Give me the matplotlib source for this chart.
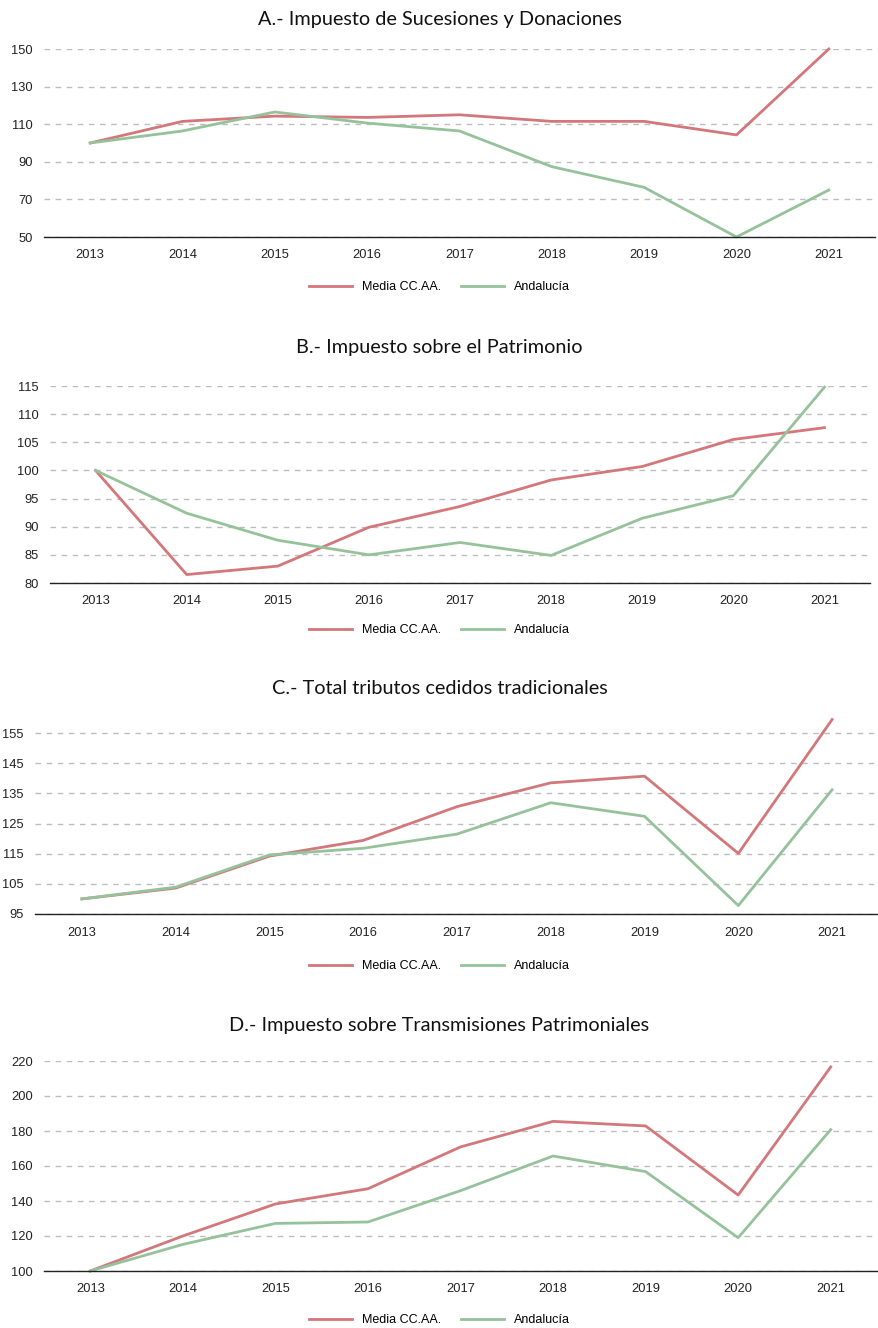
import matplotlib
matplotlib.use("Agg")
import matplotlib.pyplot as plt

W, H = 879, 1328

years = ["2013", "2014", "2015", "2016", "2017", "2018", "2019", "2020", "2021"]
series_names = ["Media CC.AA.", "Andalucía"]

# A.- Impuesto de Sucesiones y Donaciones
sucesiones_media = [100, 111.5, 114.3, 113.6, 115.0, 111.5, 111.5, 104.3, 150]
sucesiones_andalucia = [100, 106.4, 116.5, 110.6, 106.4, 87.4, 76.4, 50, 75.0]

# B.- Impuesto sobre el Patrimonio
patrimonio_media = [100, 81.5, 83.0, 89.9, 93.6, 98.3, 100.7, 105.5, 107.6]
patrimonio_andalucia = [100, 92.4, 87.6, 85.0, 87.2, 84.9, 91.5, 95.5, 114.8]

# C.- Total tributos cedidos tradicionales
tributos_media = [100, 103.6, 114.2, 119.4, 130.6, 138.5, 140.7, 115.1, 159.5]
tributos_andalucia = [100, 103.9, 114.6, 116.8, 121.5, 131.9, 127.4, 97.8, 136.2]

# D.- Impuesto sobre Transmisiones Patrimoniales
transmisiones_media = [100, 120.0, 138.3, 147.0, 170.9, 185.5, 182.9, 143.4, 216.6]
transmisiones_andalucia = [100, 115.2, 127.2, 128.0, 145.9, 165.7, 156.8, 119.0, 180.8]

RED = "#d3777b"
GREEN = "#96c29b"

panels = [
    {"title": "A.- Impuesto de Sucesiones y Donaciones",
     "media": sucesiones_media, "andalucia": sucesiones_andalucia,
     "yticks": [50, 70, 90, 110, 130, 150], "ylim": (50, 150),
     "box": (44, 49, 875, 237), "title_y": 20, "legend_y": 287},
    {"title": "B.- Impuesto sobre el Patrimonio",
     "media": patrimonio_media, "andalucia": patrimonio_andalucia,
     "yticks": [80, 85, 90, 95, 100, 105, 110, 115], "ylim": (80, 115),
     "box": (50, 386, 870, 583), "title_y": 347, "legend_y": 630},
    {"title": "C.- Total tributos cedidos tradicionales",
     "media": tributos_media, "andalucia": tributos_andalucia,
     "yticks": [95, 105, 115, 125, 135, 145, 155], "ylim": (95, 160),
     "box": (35, 718, 879, 914), "title_y": 688, "legend_y": 966},
    {"title": "D.- Impuesto sobre Transmisiones Patrimoniales",
     "media": transmisiones_media, "andalucia": transmisiones_andalucia,
     "yticks": [100, 120, 140, 160, 180, 200, 220], "ylim": (100, 220),
     "box": (44, 1061, 877, 1271), "title_y": 1025, "legend_y": 1320},
]

fig = plt.figure(figsize=(W / 100, H / 100), dpi=100)
fig.patch.set_facecolor("white")

for p in panels:
    x0, y0, x1, y1 = p["box"]
    ax = fig.add_axes([x0 / W, 1 - y1 / H, (x1 - x0) / W, (y1 - y0) / H])
    x = range(len(years))
    ax.plot(x, p["media"], color=RED, lw=2.0, label=series_names[0], zorder=3)
    ax.plot(x, p["andalucia"], color=GREEN, lw=2.0, label=series_names[1], zorder=3)

    ax.set_xlim(-0.5, len(years) - 0.5)
    ax.set_ylim(*p["ylim"])
    ax.set_xticks(list(x))
    ax.set_xticklabels(years)
    ax.set_yticks(p["yticks"])
    ax.tick_params(axis="both", length=0, labelsize=9.3, colors="#222222")
    ax.tick_params(axis="x", pad=9)
    ax.tick_params(axis="y", pad=8)
    for lab in ax.get_xticklabels() + ax.get_yticklabels():
        lab.set_fontfamily("Liberation Sans")

    ax.yaxis.grid(True, color="#bdbdbd", lw=1.0, linestyle=(0, (4, 4)))
    ax.set_axisbelow(True)
    for side in ("left", "right", "top"):
        ax.spines[side].set_visible(False)
    ax.spines["bottom"].set_color("#222222")
    ax.spines["bottom"].set_linewidth(1.0)
    ax.spines["bottom"].set_zorder(4)
    for line in ax.get_lines():
        line.set_clip_on(False)

    fig.text(0.5, 1 - p["title_y"] / H, p["title"], ha="center", va="center",
             fontsize=14.3, family="Lato", color="#111111")

    ax.legend(loc="center", bbox_to_anchor=(0.5, 1 - p["legend_y"] / H),
              bbox_transform=fig.transFigure, ncol=2, frameon=False,
              prop={"family": "Liberation Sans", "size": 9},
              handlelength=3.4, handletextpad=0.8, columnspacing=1.6)

fig.savefig("out.png", dpi=100, facecolor="white")
